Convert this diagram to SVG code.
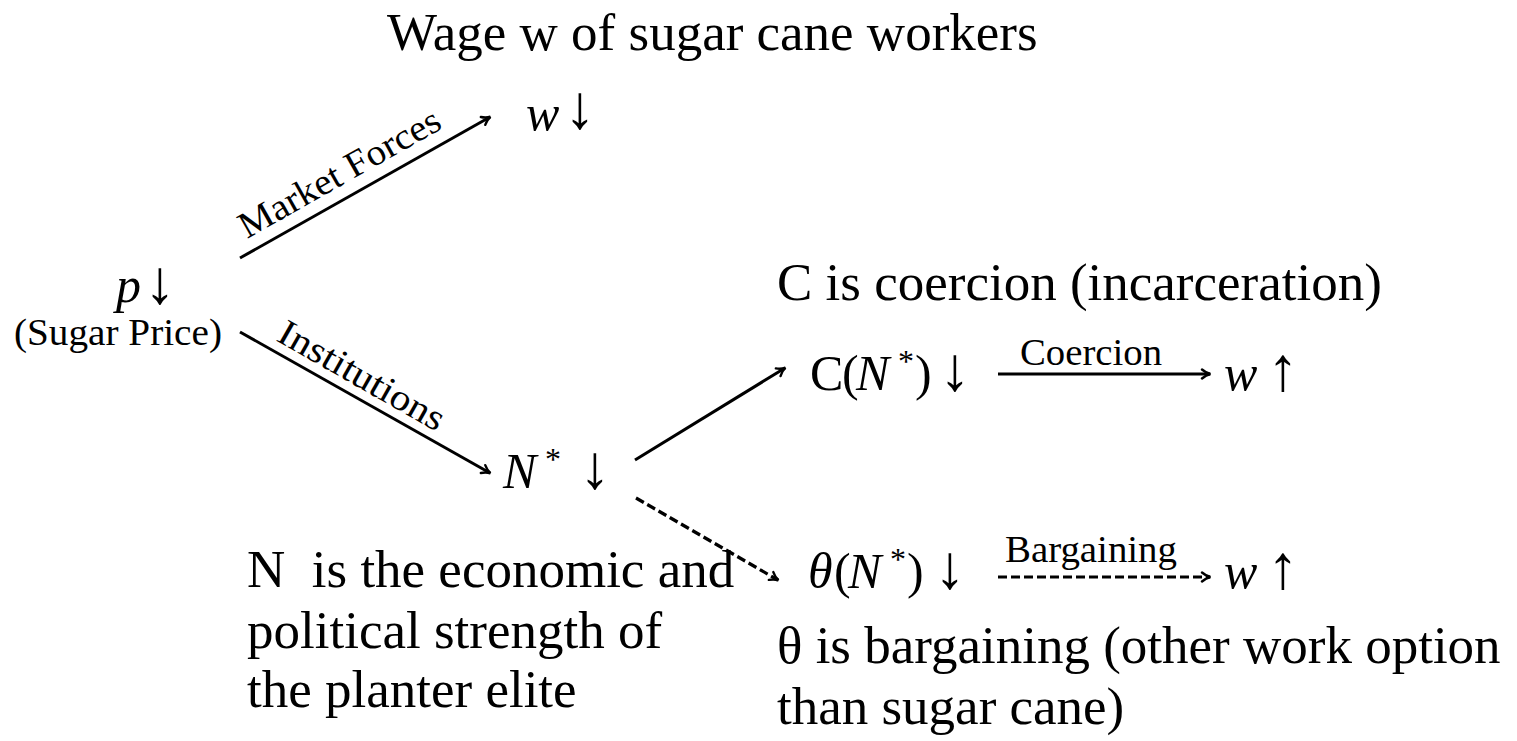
<svg xmlns="http://www.w3.org/2000/svg" width="1517" height="741" viewBox="0 0 1517 741">
<style>
.t{font-family:"Liberation Serif","Times New Roman",serif;font-size:53px;fill:#000}
.m{font-family:"Liberation Serif","Times New Roman",serif;font-size:50px;fill:#000}
.l{font-family:"Liberation Serif","Times New Roman",serif;font-size:37px;fill:#000}
.i{font-style:italic}
.sup{font-size:32px}
.ar{font-family:"Liberation Serif","DejaVu Serif",serif;font-size:62px;text-anchor:middle}
.c{stroke:#000;stroke-width:3;fill:none}
.d{stroke-dasharray:9 4;stroke-width:3.2}
</style>
<defs>
<marker id="ah" viewBox="0 0 12 12" refX="10" refY="6" markerWidth="12" markerHeight="12" markerUnits="userSpaceOnUse" orient="auto">
<path d="M2,1.5 Q6,5 10.5,6 Q6,7 2,10.5" fill="none" stroke="#000" stroke-width="2.4" stroke-linecap="round"/>
</marker>
</defs>
<rect width="1517" height="741" fill="#fff"/>
<g id="title"><text class="t" x="387" y="50">Wage w of sugar cane workers</text></g>
<g id="w-down"><text class="m i" x="526" y="130">w</text><text class="ar" x="580" y="128">↓</text></g>
<g id="p-down"><text class="m i" x="116" y="302">p</text><text class="ar" x="160" y="303">↓</text>
<text class="l" x="14" y="345" font-size="35" textLength="208" lengthAdjust="spacingAndGlyphs">(Sugar Price)</text></g>
<g id="n-star"><text class="m" y="488"><tspan class="i" x="503">N</tspan><tspan class="sup" x="545" y="470">*</tspan></text><text class="ar" x="595" y="488">↓</text></g>
<g id="c-node"><text class="m" y="390"><tspan x="810">C</tspan><tspan x="842">(</tspan><tspan class="i" x="856">N</tspan><tspan class="sup" x="898" y="372">*</tspan><tspan x="915" y="390">)</tspan></text><text class="ar" x="955" y="390">↓</text></g>
<g id="w-up-1"><text class="m i" x="1224" y="390">w</text><text class="ar" x="1283" y="390">↑</text></g>
<g id="theta-node"><text class="m" y="588"><tspan class="i" x="808">θ</tspan><tspan x="834">(</tspan><tspan class="i" x="848">N</tspan><tspan class="sup" x="890" y="570">*</tspan><tspan x="907" y="588">)</tspan></text><text class="ar" x="950" y="588">↓</text></g>
<g id="w-up-2"><text class="m i" x="1224" y="588">w</text><text class="ar" x="1283" y="588">↑</text></g>
<g id="connectors">
<line class="c" x1="240" y1="258" x2="490" y2="117" marker-end="url(#ah)"/>
<line class="c" x1="240" y1="332" x2="490" y2="473" marker-end="url(#ah)"/>
<line class="c" x1="635" y1="460" x2="785" y2="368" marker-end="url(#ah)"/>
<line class="c d" x1="636" y1="498" x2="778" y2="580" marker-end="url(#ah)"/>
<line class="c" x1="998" y1="374" x2="1210" y2="374" marker-end="url(#ah)"/>
<line class="c d" x1="998" y1="577" x2="1210" y2="577" marker-end="url(#ah)"/>
<text class="l" transform="translate(247,239) rotate(-29.5)" textLength="226" lengthAdjust="spacingAndGlyphs">Market Forces</text>
<text class="l" transform="translate(275,340) rotate(29.6)" textLength="186" lengthAdjust="spacingAndGlyphs">Institutions</text>
<text class="l" x="1020" y="365" textLength="142" lengthAdjust="spacingAndGlyphs">Coercion</text>
<text class="l" x="1005" y="562" textLength="172" lengthAdjust="spacingAndGlyphs">Bargaining</text>
</g>
<g id="note-c"><text class="t" x="777" y="300">C is coercion (incarceration)</text></g>
<g id="note-n"><text class="t" x="247" y="587" xml:space="preserve">N  is the economic and</text>
<text class="t" x="247" y="648">political strength of</text>
<text class="t" x="247" y="707">the planter elite</text></g>
<g id="note-theta"><text class="t" x="777" y="663">θ is bargaining (other work option</text>
<text class="t" x="777" y="724">than sugar cane)</text></g>
</svg>
